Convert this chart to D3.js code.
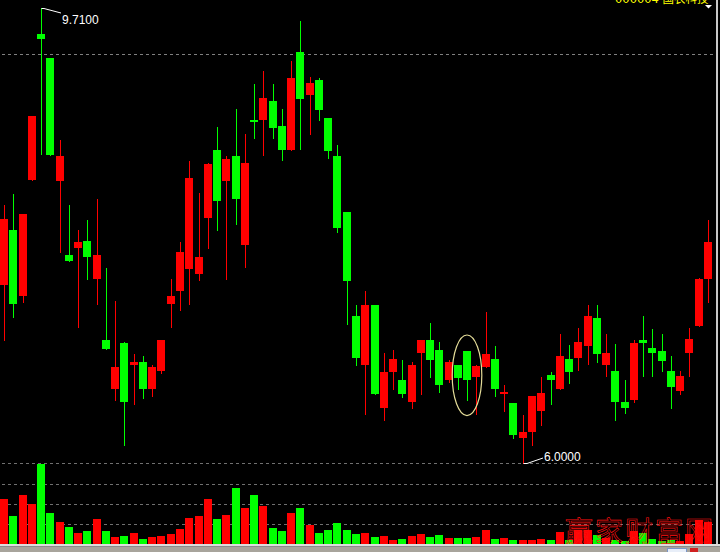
<!DOCTYPE html>
<html><head><meta charset="utf-8">
<script src="https://cdn.jsdelivr.net/npm/d3@7"></script>
<style>html,body{margin:0;padding:0;background:#000;overflow:hidden}</style>
</head><body>
<svg id="c" width="720" height="552"></svg>
<script>
// ---- data (daily K-line, 77 sessions) ----
const opens  = [7.45,7.90,7.36,8.31,9.50,9.30,8.30,7.70,7.75,7.81,
                7.50,7.00,6.60,6.98,6.80,6.82,6.60,6.75,7.30,7.40,
                7.58,7.54,8.00,8.55,8.30,8.50,7.78,8.80,8.80,8.95,
                8.75,8.55,9.35,9.00,9.12,8.81,8.50,8.05,7.20,6.80,
                7.29,6.45,6.74,6.68,6.50,6.90,7.00,6.92,6.68,6.80,
                6.91,6.70,6.78,6.85,6.56,6.49,6.20,6.25,6.42,6.72,
                6.60,6.85,6.86,6.95,7.18,6.80,6.75,6.50,6.51,7.00,
                6.94,6.91,6.75,6.59,6.90,7.12,7.50];
const highs  = [8.10,8.19,8.03,8.83,9.71,9.30,8.63,8.10,7.90,7.98,
                8.15,7.59,7.32,6.99,6.89,6.87,6.80,7.00,7.50,7.80,
                8.46,8.20,8.45,8.74,8.50,8.89,8.68,9.09,9.20,9.09,
                8.89,9.28,9.60,9.15,9.14,8.81,8.59,8.05,7.29,7.40,
                7.29,6.90,6.92,6.84,6.82,7.00,7.14,6.99,6.84,6.80,
                6.91,6.80,7.23,6.95,6.64,6.49,6.39,6.55,6.70,6.74,
                7.05,6.96,7.10,7.29,7.29,7.05,6.97,6.68,7.00,7.20,
                7.09,7.05,6.87,6.75,7.10,7.51,7.98];
const lows   = [7.00,7.19,7.31,8.31,8.52,8.51,7.72,7.65,7.11,7.50,
                7.30,6.93,6.51,6.15,6.48,6.53,6.55,6.73,7.11,7.25,
                7.30,7.49,7.75,7.90,7.50,7.95,7.60,8.65,8.51,8.65,
                8.47,8.55,8.56,8.68,8.80,8.49,7.88,7.13,6.80,6.40,
                6.56,6.35,6.60,6.54,6.45,6.56,6.70,6.58,6.66,6.60,
                6.51,6.40,6.78,6.55,6.42,6.20,6.00,6.15,6.31,6.48,
                6.60,6.65,6.76,6.81,6.82,6.71,6.35,6.41,6.50,6.71,
                6.71,6.75,6.45,6.56,6.71,7.12,7.31];
const closes = [7.99,7.30,8.03,8.83,9.46,8.51,8.50,7.65,7.80,7.68,
                7.70,6.93,6.78,6.50,6.82,6.60,6.78,7.00,7.36,7.72,
                8.32,7.68,8.44,8.14,8.48,8.15,8.45,8.79,8.98,8.73,
                8.55,9.14,8.97,9.10,8.88,8.54,7.92,7.48,6.86,7.29,
                6.56,6.74,6.85,6.56,6.80,7.00,6.84,6.64,6.82,6.69,
                6.68,6.79,6.89,6.60,6.58,6.23,6.25,6.55,6.57,6.68,
                6.87,6.74,6.99,7.20,6.89,6.90,6.50,6.45,6.98,6.98,
                6.90,6.83,6.62,6.71,7.01,7.50,7.80];
const volumes = [2.22,1.38,2.42,1.98,3.95,1.53,1.09,0.84,0.54,0.64,
                 1.23,0.64,0.35,0.40,0.54,0.25,0.35,0.40,0.49,0.74,
                 1.28,1.38,2.22,1.23,1.43,2.77,1.78,2.42,1.88,0.79,
                 0.64,1.53,1.78,0.94,0.54,0.69,1.04,0.69,0.49,0.54,
                 0.35,0.40,0.20,0.25,0.40,0.49,0.35,0.44,0.30,0.30,
                 0.30,0.35,0.69,0.25,0.30,0.20,0.20,0.20,0.25,0.20,
                 0.59,0.20,0.69,0.69,0.44,0.30,0.20,0.15,0.64,0.54,
                 0.25,0.15,0.20,0.15,0.49,1.19,1.09];
const volumeTicks = [1, 2, 3, 4];
const priceGuide = 9.335;
const titleText = "000004 国农科技";
const watermarkText = "赢家财富网";
const circledIndex = 50;
const circledPrice = 6.715;

// ---- drawing ----
const W = 720, H = 552;
const RED = "#ff0000", GREEN = "#00ff00";
const svg = d3.select("#c");
svg.append("rect").attr("width", W).attr("height", H).attr("fill", "#000");

const n = closes.length;
const x = d3.scaleBand().domain(d3.range(n)).range([0, 713.25]).padding(0);
const left = i => Math.round(x(i));
const bodyW = 8;
const y = d3.scaleLinear().domain([6.00, 9.71]).range([463, 8]);
const yv = d3.scaleLinear().domain([0, 4]).range([544.3, 463.3]);
const up = i => closes[i] >= opens[i];

const g = svg.append("g").attr("shape-rendering", "crispEdges");

// dashed guides
g.append("line").attr("x1", 2).attr("x2", 716)
  .attr("y1", Math.round(y(priceGuide)) + 0.5).attr("y2", Math.round(y(priceGuide)) + 0.5)
  .attr("stroke", "#808080").attr("stroke-dasharray", "3,3");
g.selectAll(".vg").data(volumeTicks).join("line")
  .attr("x1", 2).attr("x2", 716)
  .attr("y1", d => Math.round(yv(d)) + 0.5).attr("y2", d => Math.round(yv(d)) + 0.5)
  .attr("stroke", "#707070").attr("stroke-dasharray", "3,3");

// candles
const idx = d3.range(n);
const cg = g.append("g");
cg.selectAll(".wick").data(idx).join("rect")
  .attr("x", i => left(i) + 4)
  .attr("y", i => Math.round(y(highs[i])))
  .attr("width", 1)
  .attr("height", i => Math.round(y(lows[i])) - Math.round(y(highs[i])) + 1)
  .attr("fill", i => up(i) ? RED : GREEN);
cg.selectAll(".body").data(idx).join("rect")
  .attr("x", i => left(i))
  .attr("y", i => Math.round(y(Math.max(opens[i], closes[i]))))
  .attr("width", bodyW)
  .attr("height", i => Math.max(2, Math.round(y(Math.min(opens[i], closes[i]))) - Math.round(y(Math.max(opens[i], closes[i])))))
  .attr("fill", i => up(i) ? RED : GREEN);

// volume
g.selectAll(".vol").data(idx).join("rect")
  .attr("x", i => left(i))
  .attr("y", i => Math.round(yv(volumes[i])))
  .attr("width", bodyW)
  .attr("height", i => Math.round(yv(0)) - Math.round(yv(volumes[i])))
  .attr("fill", i => up(i) ? RED : GREEN);

// watermark
svg.append("text").text(watermarkText)
  .attr("x", 565).attr("y", 542)
  .attr("font-family", "'Noto Sans CJK SC'").attr("font-size", 28)
  .attr("letter-spacing", 2)
  .attr("fill", "none").attr("stroke", "#ff1010").attr("stroke-width", 0.6);

// max / min annotations
const iMax = d3.maxIndex(highs), iMin = d3.minIndex(lows);
const hx = left(iMax) + 4, hy = Math.round(y(highs[iMax]));
svg.append("polyline")
  .attr("points", `${hx + 0.5},${hy + 0.5} ${hx + 3},${hy + 0.5} ${hx + 20},${hy + 5}`)
  .attr("fill", "none").attr("stroke", "#fff").attr("stroke-width", 1);
svg.append("text").text(highs[iMax].toFixed(4))
  .attr("x", hx + 21).attr("y", hy + 16)
  .attr("font-family", "'Liberation Sans', Arial, sans-serif").attr("font-size", 12).attr("fill", "#fff");
const lx = left(iMin) + 4, ly = Math.round(y(lows[iMin]));
svg.append("polyline")
  .attr("points", `${lx + 0.5},${ly + 0.5} ${lx + 4},${ly + 0.5} ${lx + 20},${ly - 5}`)
  .attr("fill", "none").attr("stroke", "#fff").attr("stroke-width", 1);
svg.append("text").text(lows[iMin].toFixed(4))
  .attr("x", lx + 21).attr("y", ly - 2)
  .attr("font-family", "'Liberation Sans', Arial, sans-serif").attr("font-size", 12).attr("fill", "#fff");

// ellipse marker
svg.append("ellipse")
  .attr("cx", left(circledIndex) + 4).attr("cy", y(circledPrice))
  .attr("rx", 14.8).attr("ry", 40.3)
  .attr("fill", "none").attr("stroke", "#e4dc98").attr("stroke-width", 1.2);

// title (cut off at top, as in the reference)
svg.append("text").text(titleText)
  .attr("x", 615).attr("y", 2.5)
  .attr("font-family", "'DejaVu Sans', 'Noto Sans CJK SC'").attr("font-size", 11.5)
  .attr("fill", "#ffff00");
svg.append("path").attr("d", "M705,5 L712,5 L708.5,8.5 Z").attr("fill", "#fff");

// frame
const fg = svg.append("g").attr("shape-rendering", "crispEdges");
fg.append("rect").attr("x", 716).attr("y", 0).attr("width", 2).attr("height", 544).attr("fill", "#c8c8c8");
fg.append("rect").attr("x", 0).attr("y", 544).attr("width", W).attr("height", 2).attr("fill", "#dcdcdc");
fg.append("rect").attr("x", 0).attr("y", 546).attr("width", W).attr("height", 1).attr("fill", "#8a8a8a");
fg.append("rect").attr("x", 0).attr("y", 547).attr("width", W).attr("height", 5).attr("fill", "#a8a49c");
fg.append("rect").attr("x", 667).attr("y", 548).attr("width", 19).attr("height", 4).attr("fill", "#e8eef8").attr("stroke", "#7a96c8");
fg.append("rect").attr("x", 690).attr("y", 548).attr("width", 8).attr("height", 4).attr("fill", "#d02020");
</script>
</body></html>
